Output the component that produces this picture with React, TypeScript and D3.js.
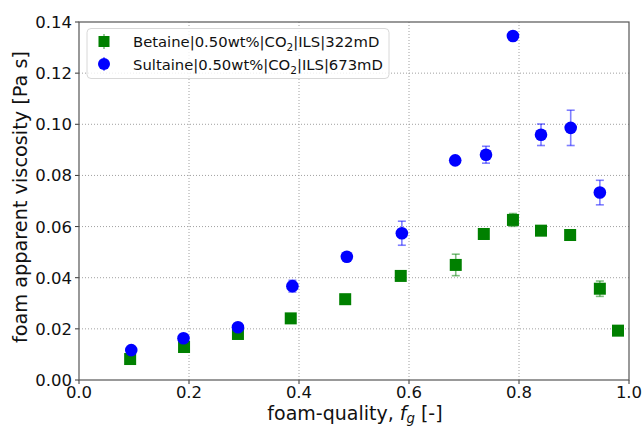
import React from "react";
import * as d3 from "d3";

const betaineX = [0.093, 0.191, 0.289, 0.385, 0.484, 0.585, 0.685, 0.736, 0.789, 0.840, 0.893, 0.947, 0.980];
const betaineY = [0.0082, 0.0129, 0.0180, 0.0241, 0.0316, 0.0407, 0.0450, 0.0571, 0.0626, 0.0584, 0.0567, 0.0357, 0.0193];
const betaineErr = [0.0008, 0.0008, 0.0008, 0.0006, 0.0006, 0.0008, 0.0042, 0.0006, 0.0025, 0.0010, 0.0006, 0.0030, 0.0006];

const sultaineX = [0.095, 0.190, 0.289, 0.388, 0.487, 0.587, 0.684, 0.740, 0.789, 0.840, 0.894, 0.947];
const sultaineY = [0.0117, 0.0163, 0.0206, 0.0367, 0.0482, 0.0574, 0.0859, 0.0881, 0.1345, 0.0959, 0.0986, 0.0733];
const sultaineErr = [0.0008, 0.0008, 0.0010, 0.0023, 0.0010, 0.0047, 0.0015, 0.0033, 0.0008, 0.0042, 0.0069, 0.0048];

const xTicks = [0.0, 0.2, 0.4, 0.6, 0.8, 1.0];
const yTicks = [0.0, 0.02, 0.04, 0.06, 0.08, 0.1, 0.12, 0.14];

const W = 644;
const H = 426;
const left = 79;
const right = 629;
const top = 22;
const bottom = 380;

const GREEN = "#008000";
const BLUE = "#0000ff";
const FONT = "DejaVu Sans, sans-serif";

export default function App() {
  const x = d3.scaleLinear().domain([0, 1]).range([left, right]);
  const y = d3.scaleLinear().domain([0, 0.14]).range([bottom, top]);

  const errBar = (cx: number, cy: number, e: number, color: string, key: string) => (
    <g key={key} stroke={color} strokeOpacity={0.5} strokeWidth={1.6}>
      <line x1={x(cx)} x2={x(cx)} y1={y(cy - e)} y2={y(cy + e)} />
      <line x1={x(cx) - 4} x2={x(cx) + 4} y1={y(cy - e)} y2={y(cy - e)} />
      <line x1={x(cx) - 4} x2={x(cx) + 4} y1={y(cy + e)} y2={y(cy + e)} />
    </g>
  );

  const sq = 12;

  return (
    <svg width={W} height={H} style={{ position: "absolute", left: 0, top: 0 }} fontFamily={FONT}>
      <rect x={0} y={0} width={W} height={H} fill="#fff" />
      {/* grid */}
      {xTicks.slice(1, -1).map((t) => (
        <line key={"gx" + t} x1={x(t)} x2={x(t)} y1={top} y2={bottom} stroke="#a0a0a0" strokeWidth={1} strokeDasharray="1,2" />
      ))}
      {yTicks.slice(1, -1).map((t) => (
        <line key={"gy" + t} x1={left} x2={right} y1={y(t)} y2={y(t)} stroke="#a0a0a0" strokeWidth={1} strokeDasharray="1,2" />
      ))}
      {/* ticks */}
      {xTicks.map((t) => (
        <g key={"tx" + t}>
          <line x1={x(t)} x2={x(t)} y1={bottom} y2={bottom + 4} stroke="#333" strokeWidth={1} />
          <text x={x(t)} y={bottom + 18} textAnchor="middle" fontSize={16.5} fill="#111">
            {t.toFixed(1)}
          </text>
        </g>
      ))}
      {yTicks.map((t) => (
        <g key={"ty" + t}>
          <line x1={left - 4} x2={left} y1={y(t)} y2={y(t)} stroke="#333" strokeWidth={1} />
          <text x={left - 7} y={y(t) + 6} textAnchor="end" fontSize={16.5} fill="#111">
            {t.toFixed(2)}
          </text>
        </g>
      ))}
      {/* data: error bars */}
      {betaineX.map((v, i) => errBar(v, betaineY[i], betaineErr[i], GREEN, "be" + i))}
      {sultaineX.map((v, i) => errBar(v, sultaineY[i], sultaineErr[i], BLUE, "se" + i))}
      {betaineX.map((v, i) => (
        <rect key={"b" + i} x={x(v) - sq / 2} y={y(betaineY[i]) - sq / 2} width={sq} height={sq} fill={GREEN} />
      ))}
      {sultaineX.map((v, i) => (
        <circle key={"s" + i} cx={x(v)} cy={y(sultaineY[i])} r={6.3} fill={BLUE} />
      ))}
      {/* frame */}
      <rect x={left} y={top} width={right - left} height={bottom - top} fill="none" stroke="#555" strokeWidth={1.2} />
      {/* legend */}
      <g>
        <rect x={87} y={28.5} width={302} height={50} rx={4} fill="#fff" fillOpacity={0.8} stroke="#d8d8d8" strokeWidth={1} />
        <g stroke={GREEN} strokeOpacity={0.5} strokeWidth={1.6}>
          <line x1={104} x2={104} y1={34} y2={49} />
        </g>
        <rect x={104 - 5.5} y={41.5 - 5.5} width={11} height={11} fill={GREEN} />
        <text x={133} y={47} fontSize={14.8} fill="#111">
          Betaine|0.50wt%|CO<tspan fontSize={10.5} dy={4}>2</tspan><tspan dy={-4}>|ILS|322mD</tspan>
        </text>
        <g stroke={BLUE} strokeOpacity={0.5} strokeWidth={1.6}>
          <line x1={104} x2={104} y1={57} y2={71} />
        </g>
        <circle cx={104} cy={64} r={6} fill={BLUE} />
        <text x={133} y={69.5} fontSize={14.8} fill="#111">
          Sultaine|0.50wt%|CO<tspan fontSize={10.5} dy={4}>2</tspan><tspan dy={-4}>|ILS|673mD</tspan>
        </text>
      </g>
      {/* axis labels */}
      <text x={(left + right) / 2 + 1} y={419.5} textAnchor="middle" fontSize={19} fill="#111">
        foam-quality, <tspan fontStyle="italic">f</tspan><tspan fontStyle="italic" fontSize={13.3} dy={3}>g</tspan><tspan dy={-3}> [-]</tspan>
      </text>
      <text transform={`translate(27, ${(top + bottom) / 2 - 4}) rotate(-90)`} textAnchor="middle" fontSize={19.3} fill="#111">
        foam apparent viscosity [Pa s]
      </text>
    </svg>
  );
}
